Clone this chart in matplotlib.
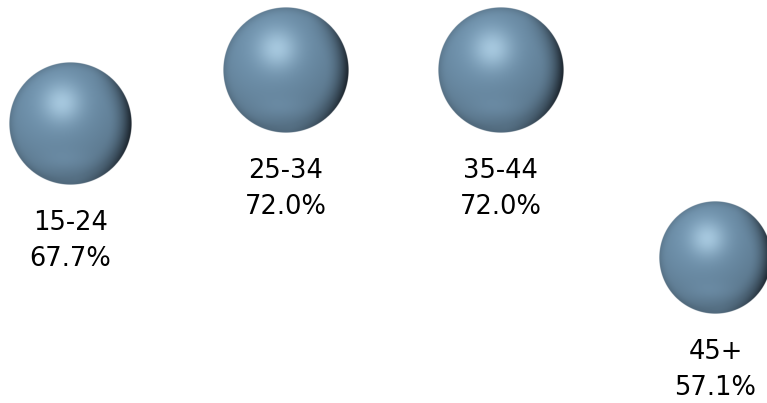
import numpy as np
import matplotlib
matplotlib.use("Agg")
import matplotlib.pyplot as plt

# age groups and share (%)
groups = ["15-24", "25-34", "35-44", "45+"]
values = [67.7, 72.0, 72.0, 57.1]

W, H = 767, 403
px_x = 215.0      # pixels per category step
px_y = 12.6       # pixels per percentage point
x0_px = 70.5      # pixel x of first category
ref_val, ref_px = 72.0, 70.0   # value 72 sits 70 px from the top
r_max = 63.0      # radius (px) of the largest bubble


def sphere_image(n=300):
    t = np.linspace(-1, 1, n)
    x, y = np.meshgrid(t, -t)
    rho = np.sqrt(x**2 + y**2)
    z = np.sqrt(np.clip(1 - rho**2, 0, 1))

    L = np.array([-0.3, 0.45, 0.84])
    L = L / np.linalg.norm(L)
    diff = np.clip(x * L[0] + y * L[1] + z * L[2], 0, 1)

    base = np.array([0.42, 0.55, 0.65])
    light = np.array([0.76, 0.89, 0.97])
    dark = np.array([0.09, 0.12, 0.15])

    col = base[None, None, :] * (0.80 + 0.25 * diff[..., None])
    hl = np.exp(-((x + 0.14)**2 + (y - 0.34)**2) / 0.10)
    col = col * (1 - 0.65 * hl[..., None]) + light * 0.65 * hl[..., None]
    # soft reflection near the bottom
    refl = np.exp(-((x + 0.05)**2 / 0.2 + (y + 0.6)**2 / 0.03)) * 0.06
    col = col + refl[..., None] * np.array([0.5, 0.6, 0.7])
    # dark rim toward the right
    rim = np.clip((x * 0.95 - y * 0.15 - 0.2) / 0.75, 0, 1)**1.5 * np.clip((rho - 0.62) / 0.38, 0, 1)**1.5
    col = col * (1 - 0.95 * rim[..., None]) + dark * 0.95 * rim[..., None]
    # slight edge shadow all round
    edge = np.clip((rho - 0.85) / 0.15, 0, 1)**2 * 0.12
    col = col * (1 - edge[..., None]) + dark * edge[..., None]

    alpha = np.clip((1 - rho) * n / 2, 0, 1)
    img = np.dstack([np.clip(col, 0, 1), alpha])
    return img


fig = plt.figure(figsize=(W / 100, H / 100), dpi=100)
ax = fig.add_axes([0, 0, 1, 1])
ax.set_xlim(-x0_px / px_x, (W - x0_px) / px_x)
ax.set_ylim(ref_val - (H - ref_px) / px_y, ref_val + ref_px / px_y)
ax.axis("off")

img = sphere_image()
for i, (g, v) in enumerate(zip(groups, values)):
    r = r_max * np.sqrt(v / max(values))
    dx, dy = r / px_x, r / px_y
    ax.imshow(img, extent=[i - dx, i + dx, v - dy, v + dy], aspect="auto",
              interpolation="antialiased", zorder=2)
    y1 = v - (r + 38) / px_y
    y2 = v - (r + 74) / px_y
    ax.text(i, y1, g, ha="center", va="center", fontsize=18.5, color="black",
            family="DejaVu Sans")
    ax.text(i, y2, f"{v:.1f}%", ha="center", va="center", fontsize=18.5,
            color="black", family="DejaVu Sans")

fig.savefig("out.png", dpi=100)
